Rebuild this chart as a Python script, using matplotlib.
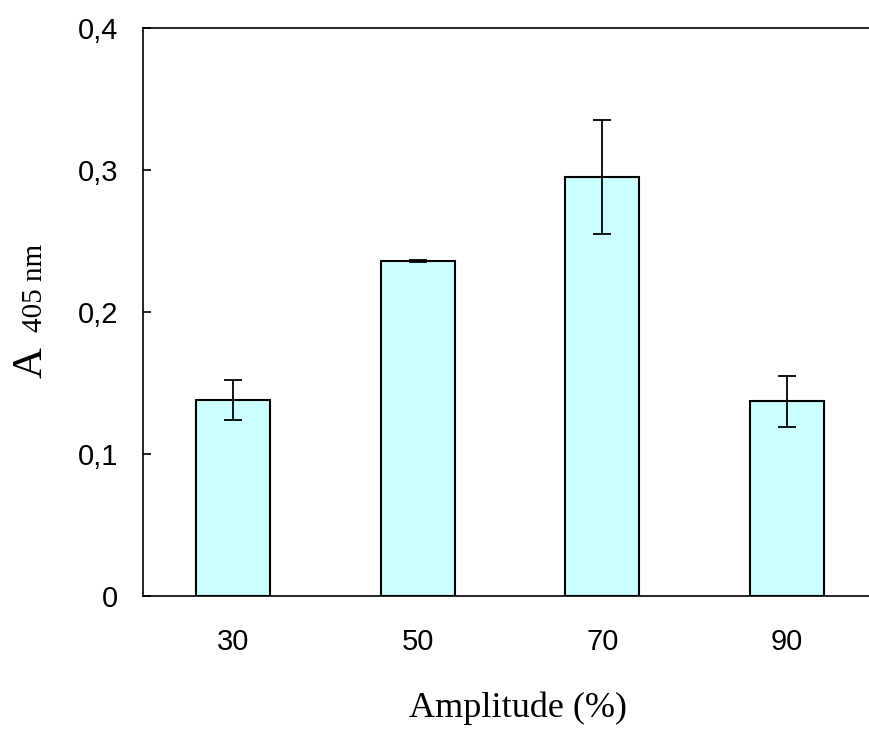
import matplotlib
matplotlib.use("Agg")
import matplotlib.pyplot as plt

# Absorbance at 405 nm for each sonication amplitude
amplitudes = ["30", "50", "70", "90"]
absorbance = [0.138, 0.236, 0.295, 0.137]
abs_err = [0.014, 0.0005, 0.040, 0.018]
y_ticks = [0.0, 0.1, 0.2, 0.3, 0.4]
y_tick_labels = ["0", "0,1", "0,2", "0,3", "0,4"]

W, H, DPI = 869, 729, 100
fig = plt.figure(figsize=(W / DPI, H / DPI), dpi=DPI)
ax = fig.add_axes([143 / W, (H - 596) / H, 736 / W, (596 - 28) / H])

x = list(range(len(amplitudes)))
ax.bar(x, absorbance, width=0.4, color="#CCFFFF", edgecolor="black",
       linewidth=1.5, zorder=2)
ax.errorbar(x, absorbance, yerr=abs_err, fmt="none", ecolor="black",
            elinewidth=1.3, capsize=6.5, capthick=1.3, zorder=3)

ax.set_xlim(-0.49, 3.5)
ax.set_ylim(0, 0.4)
ax.set_xticks(x)
ax.set_xticklabels(amplitudes, fontfamily="Liberation Sans", fontsize=21)
ax.set_yticks(y_ticks)
ax.set_yticklabels(y_tick_labels, fontfamily="Liberation Sans", fontsize=21)
ax.tick_params(axis="y", direction="in", length=6, width=1.2, pad=18)
ax.tick_params(axis="x", length=0, pad=23)

for side in ("left", "top", "bottom"):
    ax.spines[side].set_linewidth(1.2)
ax.spines["right"].set_visible(False)

# Axis titles
fig.text(518 / W, (H - 717) / H, "Amplitude (%)", fontfamily="Liberation Serif",
         fontsize=26, ha="center", va="baseline")
fig.text(42 / W, (H - 378) / H, "A", fontfamily="Liberation Serif", fontsize=31,
         rotation=90, rotation_mode="anchor", ha="left", va="baseline")
fig.text(42 / W, (H - 332) / H, "405 nm", fontfamily="Liberation Serif", fontsize=21,
         rotation=90, rotation_mode="anchor", ha="left", va="baseline")

fig.savefig("out.png", dpi=DPI)
